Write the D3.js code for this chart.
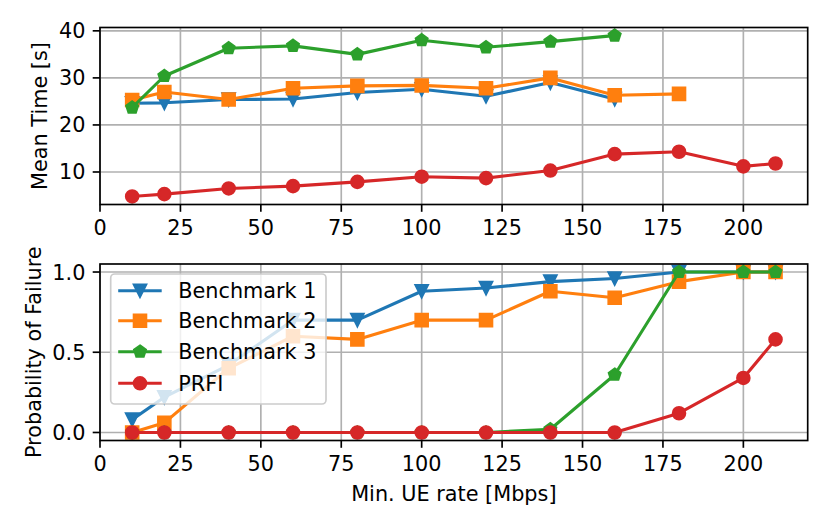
<!DOCTYPE html>
<html>
<head>
<meta charset="utf-8">
<script src="https://cdn.jsdelivr.net/npm/d3@7"></script>
<style>
  body { margin: 0; background: #fff; }
  svg { display: block; font-family: "DejaVu Sans", sans-serif; }
</style>
</head>
<body>
<svg id="chart" width="830" height="529"></svg>
<script>
var rates = [10, 20, 40, 60, 80, 100, 120, 140, 160, 180, 200, 210];
var seriesNames = ["Benchmark 1", "Benchmark 2", "Benchmark 3", "PRFI"];

var b1Time = [24.6, 24.7, 25.4, 25.5, 26.9, 27.6, 26.1, 29.0, 25.5, null, null, null];
var b2Time = [25.3, 27.0, 25.4, 27.8, 28.3, 28.4, 27.8, 30.0, 26.3, 26.6, null, null];
var b3Time = [23.7, 30.4, 36.3, 36.8, 35.0, 38.0, 36.5, 37.7, 39.0, null, null, null];
var prfiTime = [4.8, 5.3, 6.5, 7.0, 7.9, 9.0, 8.7, 10.3, 13.8, 14.3, 11.2, 11.8];

var b1Fail = [0.08, 0.22, 0.42, 0.70, 0.70, 0.88, 0.90, 0.94, 0.96, 1.0, 1.0, 1.0];
var b2Fail = [0.0, 0.06, 0.40, 0.60, 0.58, 0.70, 0.70, 0.88, 0.84, 0.94, 1.0, 1.0];
var b3Fail = [0, 0, 0, 0, 0, 0, 0, 0.02, 0.36, 1.0, 1.0, 1.0];
var prfiFail = [0, 0, 0, 0, 0, 0, 0, 0, 0, 0.12, 0.34, 0.58];

var xTicks = [0, 25, 50, 75, 100, 125, 150, 175, 200];
var timeTicks = [10, 20, 30, 40];
var failTicks = [0.0, 0.5, 1.0];

var colors = ["#1f77b4", "#ff7f0e", "#2ca02c", "#d62728"];
var markers = ["v", "s", "p", "o"];

var fontPx = 20.8;
var lineW = 3.1;
var markSize = 12.5;
var edgeW = 2.08;
var tickLen = 7.3;

var svg = d3.select("#chart");
var left = 100, right = 807.7;

var x = d3.scaleLinear().domain([0, 220]).range([left, right]);

function markerPath(type, s){
  var h = s / 2;
  if (type == "v") return "M0," + h + "L" + (-h) + "," + (-h) + "L" + h + "," + (-h) + "Z";
  if (type == "s") return "M" + (-h) + "," + (-h) + "h" + s + "v" + s + "h" + (-s) + "Z";
  if (type == "p") {
    var pts = d3.range(5).map(function(k){
      var a = (-90 + 72 * k) * Math.PI / 180;
      return [h * Math.cos(a), h * Math.sin(a)];
    });
    return "M" + pts.map(function(p){ return p[0].toFixed(2) + "," + p[1].toFixed(2) }).join("L") + "Z";
  }
  return "M" + h + ",0A" + h + "," + h + " 0 1,1 " + (-h) + ",0A" + h + "," + h + " 0 1,1 " + h + ",0Z";
}

function padDomain(all){
  var lo = d3.min(all), hi = d3.max(all);
  var m = (hi - lo) * 0.05;
  return [lo - m, hi + m];
}

function drawPanel(top, bottom, series, ticks, fmt, label, labelX){
  var all = [];
  series.forEach(function(s){ s.forEach(function(v){ if (v != null) all.push(v) }) });
  var y = d3.scaleLinear().domain(padDomain(all)).range([bottom, top]);
  var g = svg.append("g");

  // grid
  g.selectAll(".gx").data(xTicks).enter().append("line")
    .attr("x1", function(d){ return x(d) }).attr("x2", function(d){ return x(d) })
    .attr("y1", top).attr("y2", bottom)
    .attr("stroke", "#b0b0b0").attr("stroke-width", 1.67);
  g.selectAll(".gy").data(ticks).enter().append("line")
    .attr("x1", left).attr("x2", right)
    .attr("y1", function(d){ return y(d) }).attr("y2", function(d){ return y(d) })
    .attr("stroke", "#b0b0b0").attr("stroke-width", 1.67);

  var line = d3.line()
    .defined(function(d){ return d[1] != null })
    .x(function(d){ return x(d[0]) })
    .y(function(d){ return y(d[1]) });

  series.forEach(function(s, i){
    var pts = rates.map(function(r, j){ return [r, s[j]] });
    g.append("path").datum(pts)
      .attr("d", line)
      .attr("fill", "none")
      .attr("stroke", colors[i])
      .attr("stroke-width", lineW)
      .attr("stroke-linejoin", "round")
      .attr("stroke-linecap", "square");
    g.selectAll(".m" + i).data(pts.filter(function(p){ return p[1] != null })).enter().append("path")
      .attr("d", markerPath(markers[i], markSize))
      .attr("transform", function(d){ return "translate(" + x(d[0]) + "," + y(d[1]) + ")" })
      .attr("fill", colors[i])
      .attr("stroke", colors[i])
      .attr("stroke-width", edgeW)
      .attr("stroke-linejoin", "miter");
  });

  // frame
  g.append("rect")
    .attr("x", left).attr("y", top)
    .attr("width", right - left).attr("height", bottom - top)
    .attr("fill", "none").attr("stroke", "#000").attr("stroke-width", 1.67);

  // ticks
  g.selectAll(".tx").data(xTicks).enter().append("line")
    .attr("x1", function(d){ return x(d) }).attr("x2", function(d){ return x(d) })
    .attr("y1", bottom).attr("y2", bottom + tickLen)
    .attr("stroke", "#000").attr("stroke-width", 1.67);
  g.selectAll(".txl").data(xTicks).enter().append("text")
    .attr("x", function(d){ return x(d) })
    .attr("y", bottom + 30.5)
    .attr("text-anchor", "middle")
    .attr("font-size", fontPx)
    .text(function(d){ return d });

  g.selectAll(".ty").data(ticks).enter().append("line")
    .attr("x1", left - tickLen).attr("x2", left)
    .attr("y1", function(d){ return y(d) }).attr("y2", function(d){ return y(d) })
    .attr("stroke", "#000").attr("stroke-width", 1.67);
  g.selectAll(".tyl").data(ticks).enter().append("text")
    .attr("x", left - 2 * tickLen)
    .attr("y", function(d){ return y(d) })
    .attr("dy", "0.36em")
    .attr("text-anchor", "end")
    .attr("font-size", fontPx)
    .text(fmt);

  g.append("text")
    .attr("transform", "translate(" + labelX + "," + ((top + bottom) / 2) + ") rotate(-90)")
    .attr("text-anchor", "middle")
    .attr("font-size", fontPx)
    .text(label);

  return g;
}

drawPanel(27.5, 204.5, [b1Time, b2Time, b3Time, prfiTime], timeTicks,
  function(d){ return d }, "Mean Time [s]", 47);
var bottomPanel = drawPanel(264, 440.5, [b1Fail, b2Fail, b3Fail, prfiFail], failTicks,
  function(d){ return d3.format(".1f")(d) }, "Probability of Failure", 41);

svg.append("text")
  .attr("x", (left + right) / 2)
  .attr("y", 500.5)
  .attr("text-anchor", "middle")
  .attr("font-size", fontPx)
  .text("Min. UE rate [Mbps]");

// legend
var lg = svg.append("g").attr("transform", "translate(110.7,274)");
lg.append("rect")
  .attr("width", 215.3).attr("height", 130)
  .attr("rx", 4).attr("ry", 4)
  .attr("fill", "#fff").attr("fill-opacity", 0.8)
  .attr("stroke", "#cccccc").attr("stroke-width", 1.67);
var rowY = [16.7, 46.7, 77.7, 109.3];
seriesNames.forEach(function(name, i){
  var row = lg.append("g").attr("transform", "translate(0," + rowY[i] + ")");
  row.append("line")
    .attr("x1", 7.5).attr("x2", 51)
    .attr("stroke", colors[i]).attr("stroke-width", lineW);
  row.append("path")
    .attr("d", markerPath(markers[i], markSize))
    .attr("transform", "translate(29.3,0)")
    .attr("fill", colors[i]).attr("stroke", colors[i]).attr("stroke-width", edgeW);
  row.append("text")
    .attr("x", 67.5).attr("y", 0).attr("dy", "0.36em")
    .attr("font-size", fontPx)
    .text(name);
});
</script>
</body>
</html>
